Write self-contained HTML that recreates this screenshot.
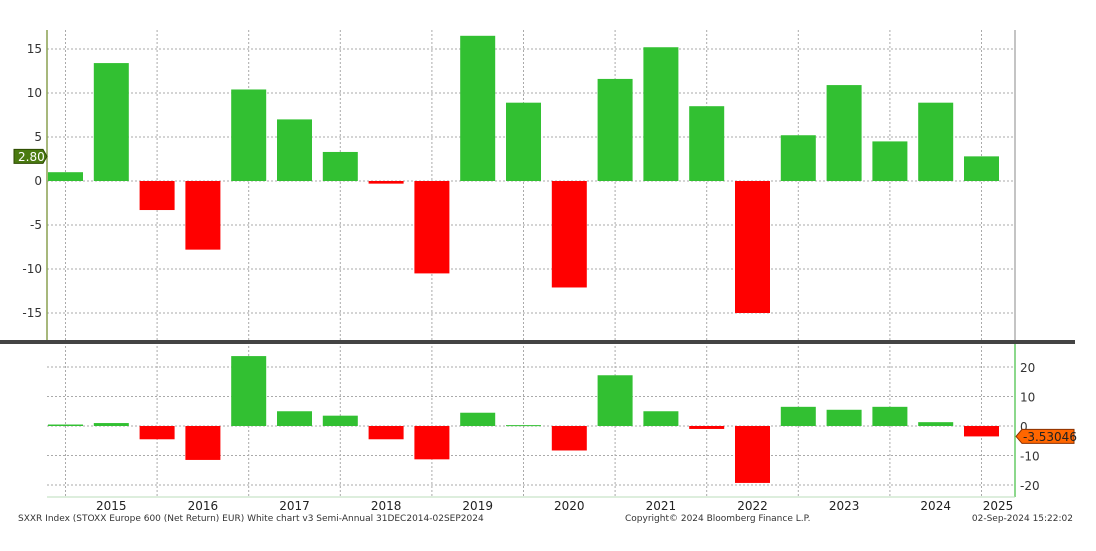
<!DOCTYPE html>
<html><head><meta charset="utf-8"><style>
body{margin:0;background:#fff;width:1096px;height:546px;overflow:hidden;font-family:"Liberation Sans",sans-serif}
svg text{font-family:"DejaVu Sans","Liberation Sans",sans-serif}
</style></head><body>
<svg id="chart" width="1096" height="546" xmlns="http://www.w3.org/2000/svg"></svg>
<script>
const topValues=[1.0,13.4,-3.3,-7.8,10.4,7.0,3.3,-0.3,-10.5,16.5,8.9,-12.1,11.6,15.2,8.5,-15.0,5.2,10.9,4.5,8.9,2.8];
const bottomValues=[0.5,1.0,-4.5,-11.5,23.7,5.0,3.5,-4.5,-11.3,4.5,0.3,-8.3,17.2,5.0,-1.0,-19.3,6.5,5.5,6.5,1.3,-3.53046];
const topTicks=[15,10,5,0,-5,-10,-15];
const bottomTicks=[20,10,0,-10,-20];
const yearLabels=["2015","2016","2017","2018","2019","2020","2021","2022","2023","2024","2025"];
const NS="http://www.w3.org/2000/svg";
const svg=document.getElementById('chart');
function el(t,a,p){const e=document.createElementNS(NS,t);for(const k in a)e.setAttribute(k,a[k]);(p||svg).appendChild(e);return e;}
const xL=47,xR=1015;
const xBar=i=>65.5+i*45.8;
const yTop=v=>181-v*8.8;
const yBot=v=>426-v*2.95;
// grids
for(const t of topTicks){const g=el('line',{x1:xL,x2:xR,y1:yTop(t),y2:yTop(t),stroke:'#aaa','stroke-dasharray':'2,2'});

const tx=el('text',{x:42,y:yTop(t)+4,'text-anchor':'end','font-size':12,fill:'#333'});tx.textContent=t;
}
for(const t of bottomTicks){const g=el('line',{x1:xL,x2:xR,y1:yBot(t),y2:yBot(t),stroke:'#aaa','stroke-dasharray':'2,2'});

const tx=el('text',{x:1020,y:yBot(t)+5,'font-size':12,fill:'#333'});tx.textContent=t;
}
for(let i=0;i<topValues.length;i+=2){const x=xBar(i);
const g=el('line',{x1:x,x2:x,y1:30,y2:497,stroke:'#aaa','stroke-dasharray':'2,2'});
}
// bars
topValues.forEach((v,i)=>{const y0=yTop(0),y1=yTop(v);
const r=el('rect',{x:xBar(i)-17.5,y:Math.min(y0,y1),width:35,height:Math.max(1,Math.abs(y1-y0)),fill:v>=0?'#32c032':'#ff0000'});
});
bottomValues.forEach((v,i)=>{const y0=yBot(0),y1=yBot(v);
const r=el('rect',{x:xBar(i)-17.5,y:Math.min(y0,y1),width:35,height:Math.max(1,Math.abs(y1-y0)),fill:v>=0?'#32c032':'#ff0000'});
});
// axes
let a=el('line',{x1:xL,x2:xL,y1:30,y2:340,stroke:'#8aa050','stroke-width':1.5});
a=el('line',{x1:xR,x2:xR,y1:30,y2:340,stroke:'#888'});
a=el('line',{x1:xR,x2:xR,y1:344,y2:497,stroke:'#6c6','stroke-width':1.5});
a=el('line',{x1:xL,x2:xR,y1:497,y2:497,stroke:'#bdb'});
a=el('rect',{x:0,y:340,width:1075,height:4,fill:'#444'});
yearLabels.forEach((y,i)=>{const x=i<10?xBar(2*i+1):998;
const t=el('text',{x:x,y:510,'text-anchor':'middle','font-size':12,fill:'#222'});t.textContent=y;
});
// value tags
let g=el('g',{});
el('path',{d:`M14 ${yTop(2.8)-7}H43L47 ${yTop(2.8)}L43 ${yTop(2.8)+7}H14Z`,fill:'#4a7a10',stroke:'#2c4a00'},g);
let t=el('text',{x:18,y:yTop(2.8)+4.5,'font-size':12,fill:'#fff'},g);t.textContent='2.80';
g=el('g',{});
const yb=yBot(-3.53046);
el('path',{d:`M1016 ${yb}L1022 ${yb-7}H1074V${yb+7}H1022Z`,fill:'#ff6600',stroke:'#8a3000'},g);
t=el('text',{x:1023,y:yb+4.5,'font-size':12,fill:'#222'},g);t.textContent='-3.53046';
// footer
const f=[[18,'start','SXXR Index (STOXX Europe 600 (Net Return) EUR) White chart v3  Semi-Annual 31DEC2014-02SEP2024','footer-description'],[625,'start','Copyright© 2024 Bloomberg Finance L.P.','footer-copyright'],[1073,'end','02-Sep-2024 15:22:02','footer-timestamp']];
f.forEach(([x,an,s,n])=>{const e=el('text',{x:x,y:521,'text-anchor':an,'font-size':9,fill:'#333'});e.textContent=s;
});
</script>
</body></html>
